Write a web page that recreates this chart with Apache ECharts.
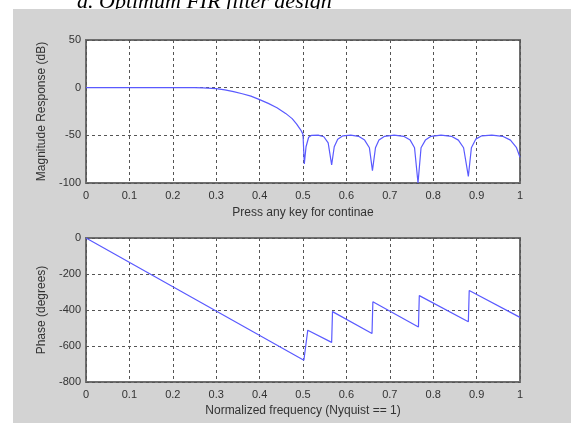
<!DOCTYPE html>
<html>
<head>
<meta charset="utf-8">
<script src="https://cdn.jsdelivr.net/npm/echarts@6/dist/echarts.min.js"></script>
<style>
  html, body { margin: 0; padding: 0; background: #ffffff; }
  #chart { width: 571px; height: 423px; }
</style>
</head>
<body>
<div id="chart"></div>
<script>
// Magnitude response of the optimum (equiripple) FIR low-pass filter
const magFreq = [0, 0.05, 0.1, 0.15, 0.2, 0.25, 0.27, 0.3, 0.32, 0.34, 0.36, 0.38, 0.4, 0.42, 0.44, 0.46, 0.475, 0.485, 0.495, 0.5,
  0.503, 0.507, 0.513, 0.52, 0.535, 0.548, 0.558, 0.566,
  0.572, 0.58, 0.592, 0.61, 0.628, 0.642, 0.653, 0.66,
  0.667, 0.675, 0.688, 0.71, 0.732, 0.747, 0.757, 0.765,
  0.772, 0.782, 0.795, 0.818, 0.842, 0.858, 0.87, 0.881,
  0.888, 0.898, 0.912, 0.935, 0.96, 0.978, 0.992, 1.0];
const magDb = [0, 0, 0, 0, 0, 0, -0.2, -1, -2.3, -4.2, -6.4, -8.9, -12.5, -16.5, -21, -27, -32.5, -38, -44.5, -49,
  -80, -62, -52, -50, -49.8, -51.5, -58, -81,
  -62, -54, -50.5, -49.8, -51, -55, -63, -87,
  -63, -55, -51, -49.8, -51, -55, -63, -100,
  -63, -55, -51, -49.8, -51, -55, -63, -93,
  -63, -54, -50.5, -49.8, -51, -55, -63, -73];

// Phase response (degrees), with the 180-degree jumps at the stopband zeros
const phaseFreq = [0, 0.502, 0.511, 0.566, 0.568, 0.659, 0.661, 0.766, 0.768, 0.881, 0.883, 1.0];
const phaseDeg = [0, -679, -512, -580, -409, -531, -354, -494, -320, -465, -292, -441];

// Axis tick settings
const freqTicks = { min: 0, max: 1, interval: 0.1 };
const magTicks = { min: -100, max: 50, interval: 50 };
const phaseTicks = { min: -800, max: 0, interval: 200 };

const titleText = 'd. Optimum FIR filter design';
const magLabel = 'Magnitude Response (dB)';
const phaseLabel = 'Phase (degrees)';
const magXLabel = 'Press any key for continae';
const phaseXLabel = 'Normalized frequency (Nyquist == 1)';

const pairs = (xs, ys) => xs.map((x, i) => [x, ys[i]]);

const font = 'Liberation Sans';
const labelStyle = { color: '#333', fontFamily: font, fontSize: 11 };
const gridLine = { show: true, lineStyle: { color: '#555', type: [3, 3], width: 1 } };

function xAxis(gridIndex, name, nameGap) {
  return {
    type: 'value', gridIndex, ...freqTicks,
    name, nameLocation: 'middle', nameGap,
    nameTextStyle: { color: '#333', fontFamily: font, fontSize: 12 },
    axisLine: { show: false }, axisTick: { show: false },
    axisLabel: { ...labelStyle, margin: 7, formatter: v => String(+v.toFixed(1)) },
    splitLine: gridLine
  };
}
function yAxis(gridIndex, ticks, name) {
  return {
    type: 'value', gridIndex, ...ticks,
    name, nameLocation: 'middle', nameGap: 38,
    nameTextStyle: { color: '#333', fontFamily: font, fontSize: 12 },
    axisLine: { show: false }, axisTick: { show: false },
    axisLabel: { ...labelStyle, margin: 5 },
    splitLine: gridLine
  };
}

const chart = echarts.init(document.getElementById('chart'), null, { renderer: 'canvas' });
chart.setOption({
  backgroundColor: '#ffffff',
  animation: false,
  graphic: [
    { type: 'text', z: -20, style: { text: titleText, x: 77, y: 13, font: 'italic 22px "Liberation Serif"', fill: '#000', verticalAlign: 'bottom' } },
    { type: 'rect', z: -10, shape: { x: 13, y: 9, width: 560, height: 416 }, style: { fill: '#d3d3d3' } }
  ],
  grid: [
    { left: 86, top: 40, width: 434, height: 143, show: true, backgroundColor: '#ffffff', borderColor: '#6e6e6e', borderWidth: 2 },
    { left: 86, top: 238, width: 434, height: 144, show: true, backgroundColor: '#ffffff', borderColor: '#6e6e6e', borderWidth: 2 }
  ],
  xAxis: [xAxis(0, magXLabel, 24), xAxis(1, phaseXLabel, 23)],
  yAxis: [yAxis(0, magTicks, magLabel), yAxis(1, phaseTicks, phaseLabel)],
  series: [
    { type: 'line', xAxisIndex: 0, yAxisIndex: 0, data: pairs(magFreq, magDb), showSymbol: false, smooth: false,
      lineStyle: { color: '#5a5aff', width: 1.2 } },
    { type: 'line', xAxisIndex: 1, yAxisIndex: 1, data: pairs(phaseFreq, phaseDeg), showSymbol: false, smooth: false,
      lineStyle: { color: '#5a5aff', width: 1.2 } }
  ]
});
</script>
</body>
</html>
